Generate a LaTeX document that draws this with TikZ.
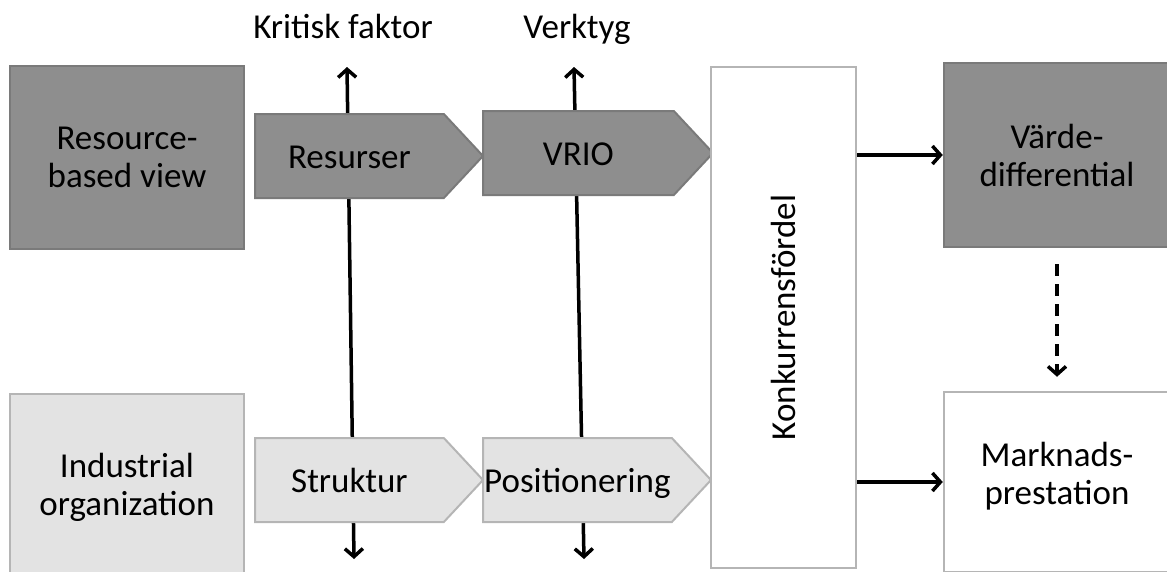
\documentclass[tikz,border=0pt]{standalone}
\usepackage{fontspec}
\setmainfont{Carlito}
\usetikzlibrary{shapes.symbols,arrows.meta}

\definecolor{darkfill}{HTML}{8E8E8E}
\definecolor{darkline}{HTML}{7A7A7A}
\definecolor{lightfill}{HTML}{E3E3E3}
\definecolor{lightline}{HTML}{B5B5B5}

\tikzset{
  txt/.style={font=\fontsize{35}{38}\selectfont},
  block/.style={txt, draw, line width=2.5pt, align=center, inner sep=0pt},
  darkblock/.style={block, fill=darkfill, draw=darkline},
  lightblock/.style={block, fill=lightfill, draw=lightline},
  whiteblock/.style={block, fill=white, draw=lightline},
  chevron/.style={txt, shape=signal, signal to=east, signal pointer angle=94,
    minimum width=228, minimum height=84, inner sep=0pt, line width=2pt, anchor=west,
    text height=27pt, text depth=3pt},
  darkchevron/.style={chevron, fill=darkfill, draw=darkline},
  lightchevron/.style={chevron, fill=lightfill, draw=lightline},
  link/.style={line width=3.5pt, -{Straight Barb[length=8pt,width=18pt]}},
  twoway/.style={line width=3.5pt, {Straight Barb[length=8pt,width=18pt]}-{Straight Barb[length=8pt,width=18pt]}},
}

\begin{document}
\begin{tikzpicture}[x=1pt,y=-1pt]
\useasboundingbox (0,0) rectangle (1167,571);

% labels above the two vertical axes
\node[txt, anchor=base] (kritisk) at (343,38) {Kritisk faktor};
\node[txt, anchor=base] (verktyg) at (577,38) {Verktyg};

% vertical axes, drawn under the chevrons
\coordinate (kritisktop) at (347,67);
\coordinate (kritiskbot) at (354,559);
\coordinate (verktygtop) at (574,67);
\coordinate (verktygbot) at (584,559);
\draw[twoway] (kritiskbot) -- (kritisktop);
\draw[twoway] (verktygbot) -- (verktygtop);

% left column
\node[darkblock, minimum width=234, minimum height=183] (rbv) at (127,157.5) {Resource-\\based view};
\node[lightblock, minimum width=234, minimum height=186] (io) at (127,487) {Industrial\\organization};

% chevrons
\node[darkchevron] (resurser) at (254,156) {Resurser};
\node[darkchevron, minimum width=230] (vrio) at (482,153) {VRIO};
\node[lightchevron] (struktur) at (254,480) {Struktur};
\node[lightchevron] (position) at (482,480) {Positionering};

% middle column
\node[whiteblock, rotate=90, minimum width=501, minimum height=145] (konk) at (783.5,317.5) {Konkurrensfördel};

% right column
\node[darkblock, minimum width=226, minimum height=184] (varde) at (1057,155) {Värde-\\differential};
\node[whiteblock, minimum width=226, minimum height=180, text depth=18pt] (marknad) at (1057,482) {Marknads-\\prestation};

% connectors
\draw[link] (konk.south |- varde.west) -- (varde.west);
\draw[link] (konk.south |- marknad.west) -- (marknad.west);
\draw[link, dash pattern=on 12pt off 8pt, shorten <=16pt, shorten >=14pt] (varde.south) -- (marknad.north);
\end{tikzpicture}
\end{document}
